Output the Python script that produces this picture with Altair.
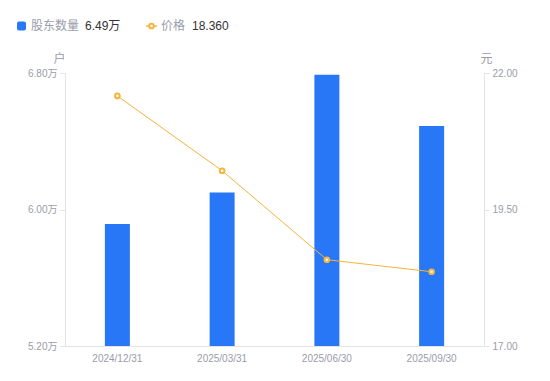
import altair as alt
import pandas as pd

dates = ["2024/12/31", "2025/03/31", "2025/06/30", "2025/09/30"]
holders = [5.915, 6.10, 6.79, 6.49]          # 万户
prices = [21.58, 20.21, 18.58, 18.36]        # 元
legend_names = ["股东数量", "价格"]
legend_values = ["6.49万", "18.360"]
left_ticks = [5.2, 6.0, 6.8]
right_ticks = [17.0, 19.5, 22.0]

df = pd.DataFrame({"date": dates, "holders": holders, "price": prices})

W, H = 419, 273
FONT = "Liberation Sans, Noto Sans CJK SC, sans-serif"
GREY = "#9a9cab"
DARK = "#333333"
AXIS = "#e3e3e8"
BLUE = "#2777F6"
ORANGE = "#F5B43A"

xenc = alt.X(
    "date:N", sort=dates, title=None,
    scale=alt.Scale(paddingInner=0, paddingOuter=0),
    axis=alt.Axis(labelAngle=0, ticks=False, domainColor=AXIS, labelColor=GREY,
                  labelFont=FONT, labelFontSize=10, labelPadding=7, grid=False),
)

bars = alt.Chart(df).mark_bar(size=25, color=BLUE, clip=True).encode(
    x=xenc,
    y=alt.Y(
        "holders:Q",
        scale=alt.Scale(domain=[5.2, 6.8], zero=False, nice=False),
        axis=alt.Axis(
            values=left_ticks, labelExpr="format(datum.value,'.2f')+'万'",
            title="户", titleAngle=0, titleX=-6, titleY=-15, titleAlign="center",
            titleBaseline="middle",
            titleColor=GREY, titleFontWeight="normal", titleFontSize=12, titleFont=FONT,
            tickSize=5, tickColor=AXIS, domainColor=AXIS, labelColor=GREY,
            labelFont=FONT, labelFontSize=10, labelPadding=3, grid=False,
        ),
    ),
)

line = alt.Chart(df).mark_line(
    color=ORANGE, strokeWidth=1,
    point=alt.OverlayMarkDef(filled=True, fill="white", stroke=ORANGE, strokeWidth=2, size=22),
).encode(
    x=xenc,
    y=alt.Y(
        "price:Q",
        scale=alt.Scale(domain=[17, 22], zero=False, nice=False),
        axis=alt.Axis(
            orient="right", values=right_ticks, format=".2f",
            title="元", titleAngle=0, titleX=2, titleY=-15, titleAlign="center",
            titleBaseline="middle",
            titleColor=GREY, titleFontWeight="normal", titleFontSize=12, titleFont=FONT,
            tickSize=5, tickColor=AXIS, domainColor=AXIS, labelColor=GREY,
            labelFont=FONT, labelFontSize=10, labelPadding=3, grid=False,
        ),
    ),
)

LY = -47


def txt(s, xpos, color):
    return alt.Chart(pd.DataFrame({"t": [s]})).mark_text(
        align="left", baseline="middle", font=FONT, fontSize=12, color=color
    ).encode(x=alt.value(xpos), y=alt.value(LY), text="t:N")


leg_sq = alt.Chart(pd.DataFrame({"t": [legend_names[0]]})).mark_rect(
    color=BLUE, cornerRadius=2
).encode(x=alt.value(-48), x2=alt.value(-39), y=alt.value(LY - 4.5), y2=alt.value(LY + 4.5))
leg_rule = alt.Chart(pd.DataFrame({"t": [legend_names[1]]})).mark_rule(
    color=ORANGE, strokeWidth=1.5
).encode(x=alt.value(81), x2=alt.value(92), y=alt.value(LY))
leg_pt = alt.Chart(pd.DataFrame({"t": [legend_names[1]]})).mark_point(
    filled=True, fill="white", stroke=ORANGE, strokeWidth=2, size=22, opacity=1
).encode(x=alt.value(86.5), y=alt.value(LY))

chart = alt.layer(
    bars, line,
    leg_sq, txt(legend_names[0], -34, GREY), txt(legend_values[0], 20, DARK),
    leg_rule, leg_pt, txt(legend_names[1], 96, GREY), txt(legend_values[1], 127, DARK),
).resolve_scale(y="independent").properties(
    width=W, height=H,
    autosize=alt.AutoSizeParams(type="none"),
    padding={"left": 57, "top": 65, "right": 50, "bottom": 20},
).configure_view(stroke=None)

chart.save("out.html", embed_options={"renderer": "svg", "actions": False})
